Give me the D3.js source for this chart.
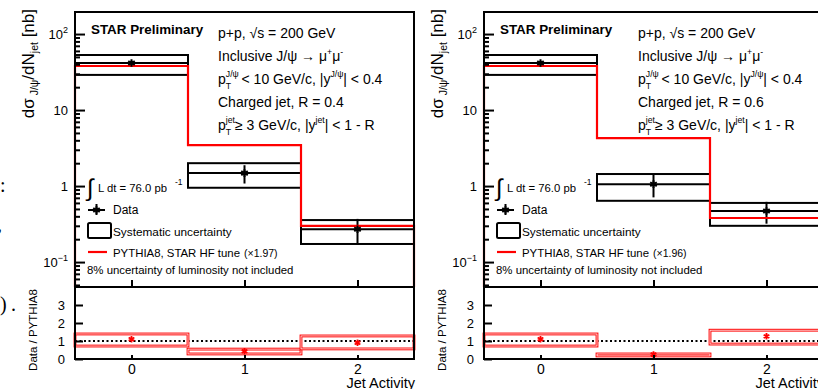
<!DOCTYPE html>
<html>
<head>
<meta charset="utf-8">
<script src="https://cdn.jsdelivr.net/npm/d3@7"></script>
<style>
body { margin: 0; background: #fff; }
svg { font-family: "Liberation Sans", Arial, sans-serif; }
</style>
</head>
<body>
<svg id="chart" width="818" height="389"></svg>
<script>
// jet activity bins
var jetActivity = [0, 1, 2];
var binEdges = [-0.5, 0.5, 1.5, 2.5];

// R = 0.4 panel (nb)
var sigmaR04 = [41.5, 1.48, 0.27];
var statR04 = [3, 0.4, 0.1];
var sysLowR04 = [29, 0.95, 0.173];
var sysHighR04 = [53, 2.0, 0.357];
var pythiaR04 = [38, 3.46, 0.30];
var ratioR04 = [1.1, 0.43, 0.9];
var ratioStatR04 = [0.08, 0.1, 0.1];
var ratioSysLowR04 = [0.72, 0.28, 0.56];
var ratioSysHighR04 = [1.39, 0.55, 1.28];

// R = 0.6 panel (nb)
var sigmaR06 = [41.5, 1.06, 0.47];
var statR06 = [3, 0.35, 0.15];
var sysLowR06 = [29, 0.64, 0.30];
var sysHighR06 = [53, 1.44, 0.60];
var pythiaR06 = [38, 4.28, 0.38];
var ratioR06 = [1.1, 0.25, 1.26];
var ratioStatR06 = [0.08, 0.05, 0.1];
var ratioSysLowR06 = [0.72, 0.17, 0.83];
var ratioSysHighR06 = [1.39, 0.28, 1.6];

var logTicks = [0.1, 1, 10, 100];
var ratioTicks = [0, 1, 2, 3];

var svg = d3.select('#chart');

// bits of the surrounding page text at the left edge
var serif = '"Liberation Serif", "Times New Roman", serif';
svg.append('text').attr('x', 0).attr('y', 192).attr('font-family', serif).attr('font-size', 20).text(':');
svg.append('text').attr('x', -3).attr('y', 231).attr('font-family', serif).attr('font-size', 20).text(',');
svg.append('text').attr('x', 0).attr('y', 311).attr('font-family', serif).attr('font-size', 20).text(')');
svg.append('text').attr('x', 11).attr('y', 311).attr('font-family', serif).attr('font-size', 20).text('.');

// draws text pieces one after the other; sup/sub pieces are smaller and shifted
function richText(g, x, y, parts, size) {
    var cx = x;
    parts.forEach(function (p) {
        var fs = p.small ? size * 0.62 : size;
        var t = g.append('text')
            .attr('x', cx)
            .attr('y', y + (p.dy || 0))
            .attr('font-size', fs)
            .text(p.t);
        var w = t.node().getComputedTextLength();
        if (!p.stack) cx += w;
    });
}

function drawPanel(p) {
    var left = p.left;
    var x = d3.scaleLinear().domain([-0.5, 2.5]).range([left, left + 339]);
    var y = d3.scaleLog().domain([0.047, 195]).range([287, 12]);
    var yr = d3.scaleLinear().domain([0, 4]).range([359, 287]);
    var g = svg.append('g');

    // ---- upper panel ----
    // systematic boxes
    g.selectAll('rect.sys').data(jetActivity).enter().append('rect')
        .attr('class', 'sys')
        .attr('x', (d, i) => x(binEdges[i]))
        .attr('width', (d, i) => x(binEdges[i + 1]) - x(binEdges[i]))
        .attr('y', (d, i) => y(p.sysHigh[i]))
        .attr('height', (d, i) => y(p.sysLow[i]) - y(p.sysHigh[i]))
        .attr('fill', 'none')
        .attr('stroke', '#000')
        .attr('stroke-width', 2);

    // horizontal bar across each bin at the data value
    g.selectAll('line.xbar').data(jetActivity).enter().append('line')
        .attr('x1', (d, i) => x(binEdges[i]))
        .attr('x2', (d, i) => x(binEdges[i + 1]))
        .attr('y1', (d, i) => y(p.sigma[i]))
        .attr('y2', (d, i) => y(p.sigma[i]))
        .attr('stroke', '#000')
        .attr('stroke-width', 2);

    // stat errors
    g.selectAll('line.stat').data(jetActivity).enter().append('line')
        .attr('x1', d => x(d))
        .attr('x2', d => x(d))
        .attr('y1', (d, i) => y(p.sigma[i] + p.stat[i]))
        .attr('y2', (d, i) => y(p.sigma[i] - p.stat[i]))
        .attr('stroke', '#000')
        .attr('stroke-width', 2);

    // PYTHIA histogram, closed down to the axis at both ends
    var bottom = y.range()[0];
    var pts = [[x(binEdges[0]), bottom]];
    jetActivity.forEach(function (d, i) {
        pts.push([x(binEdges[i]), y(p.pythia[i])]);
        pts.push([x(binEdges[i + 1]), y(p.pythia[i])]);
    });
    pts.push([x(binEdges[3]), bottom]);
    g.append('path')
        .attr('d', d3.line()(pts))
        .attr('fill', 'none')
        .attr('stroke', '#ff0000')
        .attr('stroke-width', 2.2);

    // data markers
    var star = d3.symbol().type(d3.symbolAsterisk).size(40);
    g.selectAll('path.mk').data(jetActivity).enter().append('path')
        .attr('transform', (d, i) => `translate(${x(d)}, ${y(p.sigma[i])})`)
        .attr('d', star)
        .attr('fill', 'none')
        .attr('stroke', '#000')
        .attr('stroke-width', 2);

    // ---- ratio panel ----
    g.append('line')
        .attr('x1', x(-0.5)).attr('x2', x(2.5))
        .attr('y1', yr(1)).attr('y2', yr(1))
        .attr('stroke', '#000')
        .attr('stroke-width', 2)
        .attr('stroke-dasharray', '2,2.5');

    var rboxes = g.selectAll('g.rbox').data(jetActivity).enter().append('g');
    [['#ff0000', 2.8], ['#fff', 0.8]].forEach(function (s) {
        rboxes.append('rect')
            .attr('x', (d, i) => x(binEdges[i]))
            .attr('width', (d, i) => x(binEdges[i + 1]) - x(binEdges[i]))
            .attr('y', (d, i) => yr(p.ratioSysHigh[i]))
            .attr('height', (d, i) => yr(p.ratioSysLow[i]) - yr(p.ratioSysHigh[i]))
            .attr('fill', 'none')
            .attr('stroke', s[0])
            .attr('stroke-width', s[1]);
    });
    rboxes.append('line')
        .attr('x1', d => x(d)).attr('x2', d => x(d))
        .attr('y1', (d, i) => yr(p.ratio[i] + p.ratioStat[i]))
        .attr('y2', (d, i) => yr(p.ratio[i] - p.ratioStat[i]))
        .attr('stroke', '#ff0000')
        .attr('stroke-width', 2);
    rboxes.append('path')
        .attr('transform', (d, i) => `translate(${x(d)}, ${yr(p.ratio[i])})`)
        .attr('d', d3.symbol().type(d3.symbolAsterisk).size(30))
        .attr('fill', 'none')
        .attr('stroke', '#ff0000')
        .attr('stroke-width', 1.8);

    // ---- frames ----
    g.append('rect').attr('x', left).attr('y', 12).attr('width', 339).attr('height', 275)
        .attr('fill', 'none').attr('stroke', '#000').attr('stroke-width', 2);
    g.append('rect').attr('x', left).attr('y', 287).attr('width', 339).attr('height', 72)
        .attr('fill', 'none').attr('stroke', '#000').attr('stroke-width', 2);

    // ---- axes ----
    var minorTicks = y.ticks().filter(v => logTicks.indexOf(v) < 0);
    var yMinor = g.append('g').attr('transform', `translate(${left},0)`)
        .call(d3.axisLeft(y).tickValues(minorTicks).tickSize(-5).tickFormat(''));
    var yMajor = g.append('g').attr('transform', `translate(${left},0)`)
        .call(d3.axisLeft(y).tickValues(logTicks).tickSize(-10).tickPadding(7).tickFormat(''));
    [yMinor, yMajor].forEach(function (a) {
        a.select('.domain').remove();
        a.selectAll('line').attr('stroke-width', 2);
    });
    yMajor.selectAll('.tick text')
        .attr('font-size', 13)
        .attr('fill', '#000')
        .each(function (d) {
            var t = d3.select(this);
            var exps = { 100: '2', 0.1: '\u22121' };
            var base = (d === 1) ? '1' : '10';
            t.append('tspan').text(base);
            if (exps[d]) t.append('tspan').attr('dy', -6).attr('font-size', 9).text(exps[d]);
        });

    var xTop = g.append('g').attr('transform', 'translate(0,287)')
        .call(d3.axisBottom(x).tickValues(jetActivity).tickSize(-7).tickFormat(''));
    xTop.select('.domain').remove();
    xTop.selectAll('line').attr('stroke-width', 2);

    var xBottom = g.append('g').attr('transform', 'translate(0,359)')
        .call(d3.axisBottom(x).tickValues(jetActivity).tickSize(-4).tickPadding(5).tickFormat(d3.format('d')));
    xBottom.select('.domain').remove();
    xBottom.selectAll('line').attr('stroke-width', 2);
    xBottom.selectAll('text').attr('font-size', 14).attr('fill', '#000');

    var yRatio = g.append('g').attr('transform', `translate(${left},0)`)
        .call(d3.axisLeft(yr).tickValues(ratioTicks).tickSize(-8).tickPadding(10).tickFormat(d3.format('d')));
    yRatio.select('.domain').remove();
    yRatio.selectAll('line').attr('stroke-width', 2);
    yRatio.selectAll('text').attr('font-size', 13).attr('fill', '#000');
    [xTop, yMajor, yRatio, xBottom].forEach(a => a.attr('font-family', null));

    // ---- axis titles ----
    var yt = g.append('text')
        .attr('transform', `translate(${left - 41}, 9) rotate(-90)`)
        .attr('text-anchor', 'end')
        .attr('font-size', 17);
    yt.append('tspan').text('d\u03c3');
    yt.append('tspan').attr('dy', 4).attr('font-size', 10.5).text(' J/\u03c8');
    yt.append('tspan').attr('dy', -4).text('/dN');
    yt.append('tspan').attr('dy', 4).attr('font-size', 10.5).text('jet');
    yt.append('tspan').attr('dy', -4).text(' [nb]');

    g.append('text')
        .attr('transform', `translate(${left - 38}, 330) rotate(-90)`)
        .attr('text-anchor', 'middle')
        .attr('font-size', 11.5)
        .text('Data / PYTHIA8');

    g.append('text')
        .attr('x', left + 340).attr('y', 388)
        .attr('text-anchor', 'end')
        .attr('font-size', 14.5)
        .text('Jet Activity');

    // ---- labels inside ----
    g.append('text')
        .attr('x', left + 16).attr('y', 34)
        .attr('font-size', 13.4)
        .attr('font-weight', 'bold')
        .text('STAR Preliminary');

    var ix = left + p.infoDx;
    var fs = 14;
    richText(g, ix, 38, [{ t: 'p+p, \u221as = 200 GeV' }], fs);
    richText(g, ix, 61, [{ t: 'Inclusive J/\u03c8 \u2192 \u03bc' }, { t: '+', small: true, dy: -6 }, { t: '\u03bc' }, { t: '-', small: true, dy: -6 }], fs);
    richText(g, ix, 84, [{ t: 'p' }, { t: 'T', small: true, dy: 5, stack: true }, { t: 'J/\u03c8', small: true, dy: -7 },
        { t: '\u2009< 10 GeV/c, |y' }, { t: 'J/\u03c8', small: true, dy: -7 }, { t: '| < 0.4' }], fs);
    richText(g, ix, 107, [{ t: 'Charged jet, R = ' + p.radius }], fs);
    richText(g, ix, 130, [{ t: 'p' }, { t: 'T', small: true, dy: 5, stack: true }, { t: 'jet', small: true, dy: -7 },
        { t: ' \u2265 3 GeV/c, |y' }, { t: 'jet', small: true, dy: -7 }, { t: '| < 1 - R' }], fs);

    // ---- legend ----
    var lx = left + 13;
    g.append('text').attr('x', lx - 1).attr('y', 196).attr('font-size', 24)
        .attr('font-family', '"DejaVu Sans", sans-serif').attr('font-weight', 300).text('\u222b');
    g.append('text').attr('x', lx + 10).attr('y', 192).attr('font-size', 11.3).text('L dt = 76.0 pb');
    g.append('text').attr('x', lx + 87).attr('y', 185).attr('font-size', 8.5).text('-1');

    g.append('line').attr('x1', lx).attr('x2', lx + 17).attr('y1', 210).attr('y2', 210)
        .attr('stroke', '#000').attr('stroke-width', 2);
    g.append('line').attr('x1', lx + 8.5).attr('x2', lx + 8.5).attr('y1', 204).attr('y2', 215)
        .attr('stroke', '#000').attr('stroke-width', 2);
    g.append('path').attr('transform', `translate(${lx + 8.5}, 210)`).attr('d', star)
        .attr('fill', 'none').attr('stroke', '#000').attr('stroke-width', 2);
    g.append('text').attr('x', lx + 25).attr('y', 214).attr('font-size', 12).text('Data');

    g.append('rect').attr('x', lx).attr('y', 223).attr('width', 23).attr('height', 15).attr('rx', 1.5)
        .attr('fill', 'none').attr('stroke', '#000').attr('stroke-width', 2);
    g.append('text').attr('x', lx + 25).attr('y', 236).attr('font-size', 11.8).text('Systematic uncertainty');

    g.append('line').attr('x1', lx).attr('x2', lx + 19).attr('y1', 252).attr('y2', 252)
        .attr('stroke', '#ff0000').attr('stroke-width', 2.2);
    var pyText = g.append('text').attr('x', lx + 25).attr('y', 257).attr('font-size', 11.4).text('PYTHIA8, STAR HF tune');
    var pyEnd = lx + 25 + pyText.node().getComputedTextLength();
    g.append('text').attr('x', pyEnd + 4).attr('y', 257).attr('font-size', 10.5).text('(\u00d7' + p.scale + ')');

    g.append('text').attr('x', lx - 1).attr('y', 274).attr('font-size', 11.4)
        .text('8% uncertainty of luminosity not included');
}

drawPanel({
    left: 75, infoDx: 143, radius: '0.4', scale: '1.97',
    sigma: sigmaR04, stat: statR04, sysLow: sysLowR04, sysHigh: sysHighR04, pythia: pythiaR04,
    ratio: ratioR04, ratioStat: ratioStatR04, ratioSysLow: ratioSysLowR04, ratioSysHigh: ratioSysHighR04
});
drawPanel({
    left: 484, infoDx: 154, radius: '0.6', scale: '1.96',
    sigma: sigmaR06, stat: statR06, sysLow: sysLowR06, sysHigh: sysHighR06, pythia: pythiaR06,
    ratio: ratioR06, ratioStat: ratioStatR06, ratioSysLow: ratioSysLowR06, ratioSysHigh: ratioSysHighR06
});
</script>
</body>
</html>
